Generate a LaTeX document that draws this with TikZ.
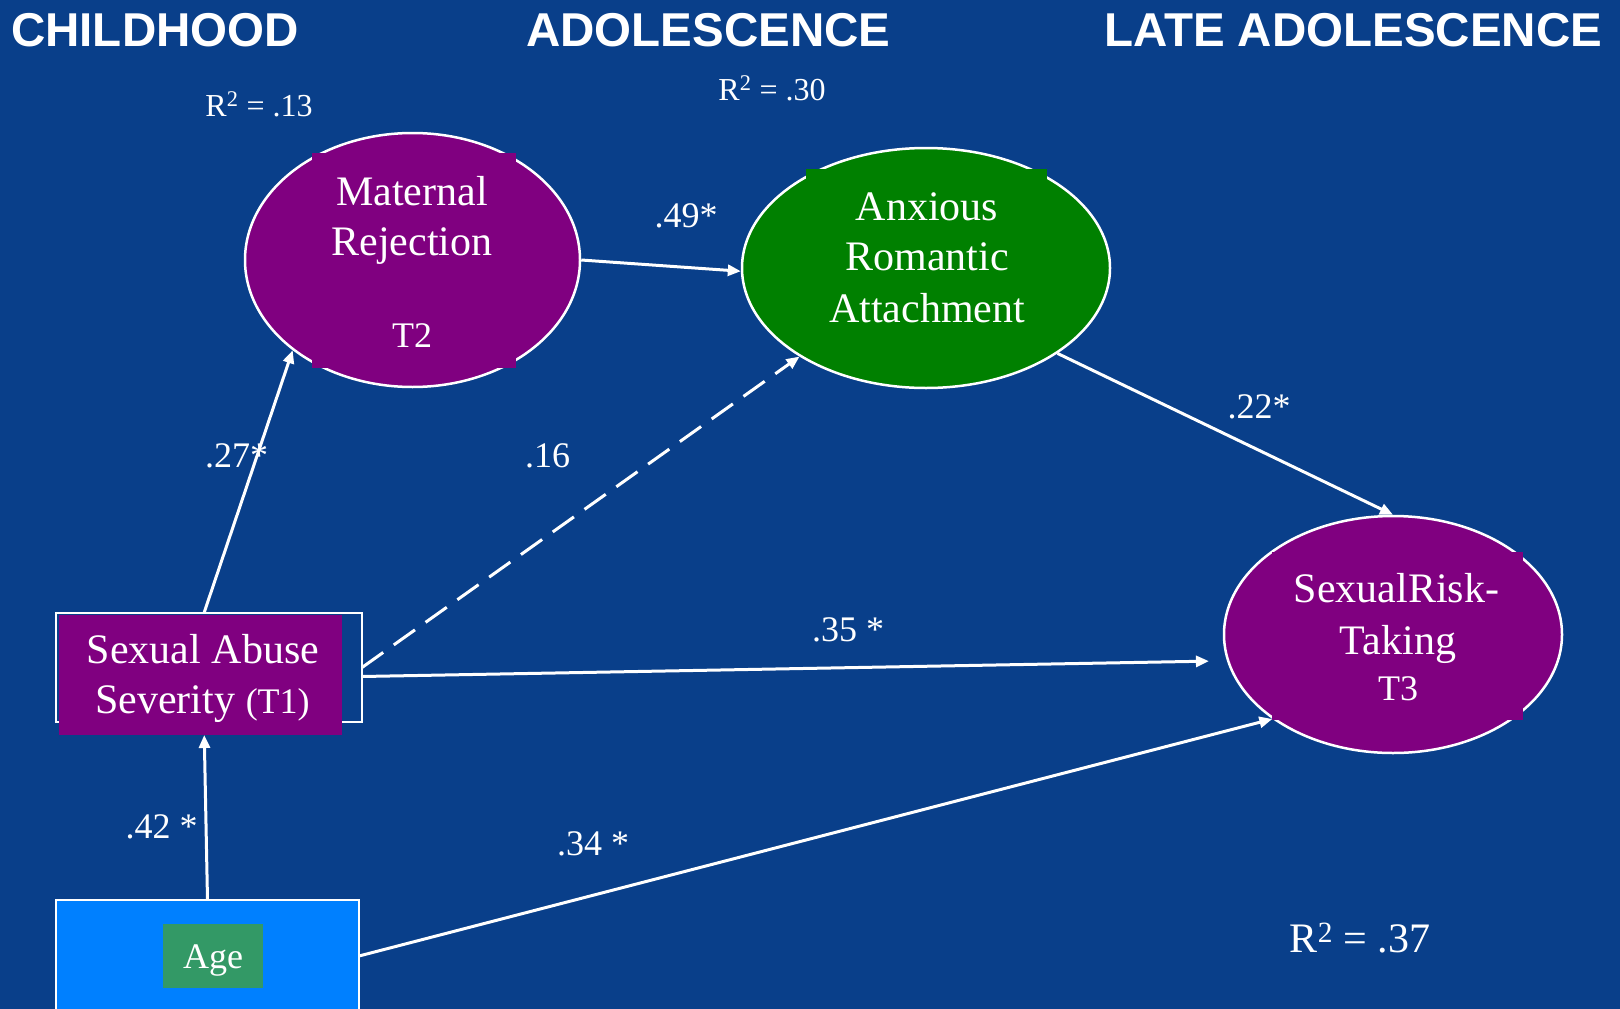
\documentclass[tikz,border=0pt]{standalone}
\usepackage{fontspec}
\setmainfont{Liberation Serif}
\newfontfamily\arialfont{Liberation Sans}
\usetikzlibrary{arrows.meta,shapes.geometric}
\definecolor{bgblue}{RGB}{9,63,138}
\definecolor{mpurple}{RGB}{128,0,128}
\definecolor{mgreen}{RGB}{0,128,0}
\definecolor{agebox}{RGB}{0,128,255}
\definecolor{agelab}{RGB}{51,153,102}
\begin{document}
\begin{tikzpicture}[x=1pt,y=-1pt,
  ell/.style={ellipse, draw=white, line width=2.5pt, inner sep=0pt},
  box/.style={rectangle, inner sep=0pt, outer sep=0pt},
  nt/.style={text=white, font=\fontsize{42}{50}\selectfont, inner sep=0pt, anchor=base},
  lab/.style={text=white, font=\fontsize{36}{43}\selectfont, inner sep=0pt, anchor=base},
  rsq/.style={text=white, font=\fontsize{32}{38}\selectfont, inner sep=0pt, anchor=base},
  ttl/.style={text=white, font=\arialfont\bfseries\fontsize{47.5}{56}\selectfont, inner sep=0pt, anchor=base west},
  arr/.style={draw=white, line width=3pt, -{Triangle[length=13pt,width=11pt]}}]
\useasboundingbox (0,0) rectangle (1620,1009);
\clip (0,0) rectangle (1620,1009);
\fill[bgblue] (0,0) rectangle (1620,1009);

% titles
\node[ttl] (t1) at (11,46) {CHILDHOOD};
\node[ttl] (t2) at (526,46) {ADOLESCENCE};
\node[ttl] (t3) at (1104,46) {LATE ADOLESCENCE};

% Maternal Rejection
\node[ell, fill=mpurple, minimum width=335pt, minimum height=254pt] (mr) at (412.5,260) {};
\node[box, fill=mpurple, minimum width=204pt, minimum height=215pt] (mrbox) at (414,260.5) {};
\node[nt] (mr1) at (412,205) {Maternal};
\node[nt] (mr2) at (412,255) {Rejection};
\node[nt, font=\fontsize{36}{43}\selectfont] (mr3) at (412,347) {T2};

% Anxious Romantic Attachment
\node[ell, fill=mgreen, minimum width=368pt, minimum height=240pt] (ax) at (926,268) {};
\node[box, fill=mgreen, minimum width=241pt, minimum height=186pt] (axbox) at (926.5,262) {};
\node[nt] (ax1) at (927,220) {Anxious};
\node[nt] (ax2) at (927,270) {Romantic};
\node[nt] (ax3) at (927,322) {Attachment};

% Sexual Risk-Taking
\node[ell, fill=mpurple, minimum width=338pt, minimum height=237pt] (sr) at (1393,634.5) {};
\node[box, fill=mpurple, minimum width=251pt, minimum height=168pt] (srbox) at (1397.5,636) {};
\node[nt] (sr1) at (1396.5,602) {SexualRisk-};
\node[nt] (sr2) at (1398,654) {Taking};
\node[nt, font=\fontsize{36}{43}\selectfont] (sr3) at (1398,700) {T3};

% Sexual Abuse Severity
\node[box, draw=white, line width=2.5pt, minimum width=306pt, minimum height=109pt] (sa) at (209,667.5) {};
\node[box, fill=mpurple, minimum width=283.5pt, minimum height=120pt] (saf) at (200.25,675) {};
\node[nt] (sa1) at (203,663) {Sexual Abuse};
\node[nt] (sa2) at (202.5,713) {Severity {\fontsize{36}{43}\selectfont (T1)}};

% Age
\node[box, draw=white, line width=2.5pt, fill=agebox, minimum width=303pt, minimum height=130pt] (age) at (207.5,965) {};
\node[box, fill=agelab, minimum width=100pt, minimum height=64pt] (agel) at (213,956) {};
\node[nt, font=\fontsize{36}{43}\selectfont] (aget) at (213,968) {Age};

% connectors
\draw[arr] (mr.east) -- (ax.181);
\draw[arr] ([xshift=-5pt]sa.north) -- (mr.217);
\draw[arr, dash pattern=on 26pt off 13pt] (sa.east) -- (ax.215);
\draw[arr, shorten >=18pt] ([yshift=-9pt]sa.east) -- (sr.189);
\draw[arr] (ax.-33.5) -- (sr.north);
\draw[arr] (age.north) -- ([xshift=4pt]saf.south);
\draw[arr] ([yshift=9pt]age.east) -- (sr.215);

% labels
\node[rsq] (r13) at (259,116) {R\textsuperscript{2} = .13};
\node[rsq] (r30) at (772,100) {R\textsuperscript{2} = .30};
\node[lab] (l49) at (686,227) {.49*};
\node[lab] (l27) at (236.5,467) {.27*};
\node[lab] (l16) at (547.5,467) {.16};
\node[lab] (l22) at (1259,418) {.22*};
\node[lab] (l35) at (848,641) {.35 *};
\node[lab] (l42) at (161.5,838) {.42 *};
\node[lab] (l34) at (593,855) {.34 *};
\node[lab, font=\fontsize{42}{50}\selectfont] (r37) at (1360,952) {R\textsuperscript{2} = .37};
\end{tikzpicture}
\end{document}
